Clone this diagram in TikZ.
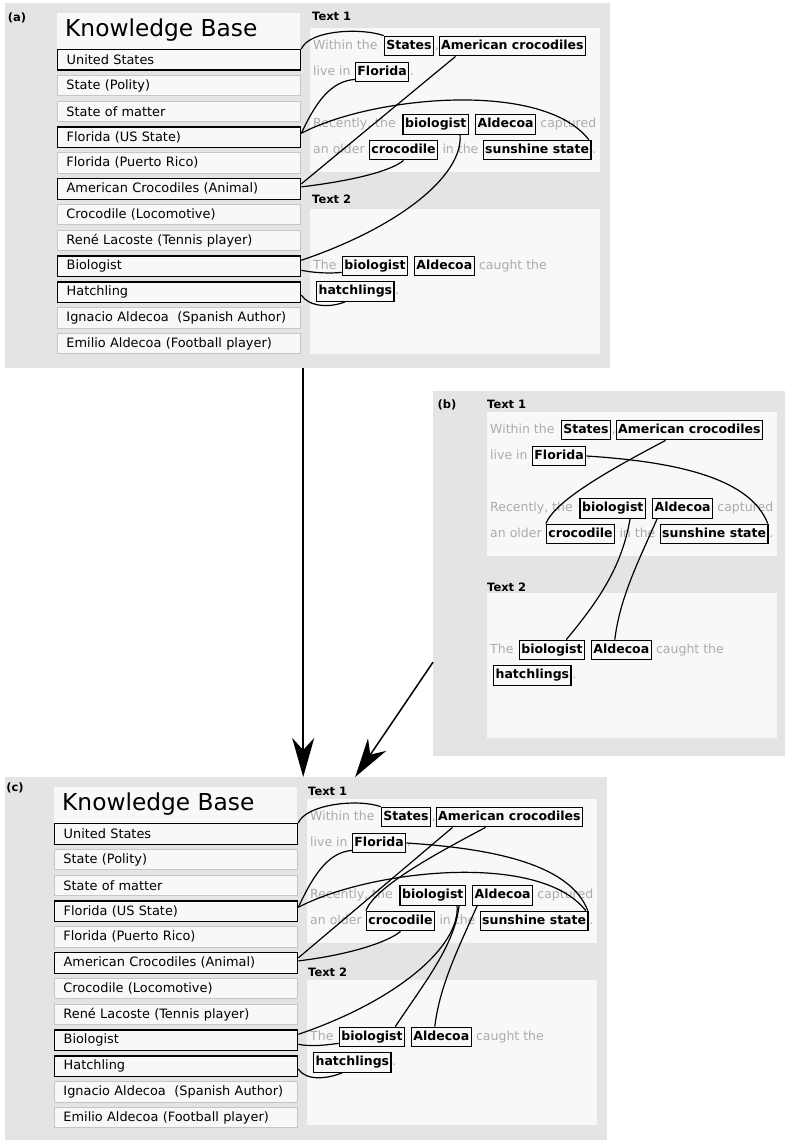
\documentclass[tikz,border=0pt]{standalone}
\usepackage{fontspec}
\setmainfont{DejaVu Sans}
\usetikzlibrary{arrows.meta}
\definecolor{bgGray}{HTML}{E4E4E4}
\definecolor{paneW}{HTML}{F8F8F8}
\definecolor{entLine}{HTML}{C6C6C6}
\definecolor{grayTxt}{HTML}{ABABAB}
\newcommand\stdsize{\fontsize{12.5}{15}\selectfont}
\newcommand\kbsize{\fontsize{12.9}{15}\selectfont}
\newcommand\lblsize{\fontsize{11.5}{13}\selectfont}

\tikzset{
  panelbg/.style={fill=bgGray, draw=none, inner sep=0, anchor=north west},
  pane/.style={fill=paneW, draw=none, inner sep=0, anchor=north west},
  ent/.style={draw=entLine, line width=0.9pt, fill=paneW, anchor=north west,
    text width=225pt, inner xsep=9pt, inner ysep=0pt, minimum height=20.5pt,
    align=left, font=\kbsize},
  entsel/.style={ent, draw=black, line width=1.3pt},
  ment/.style={draw=black, line width=1.3pt, fill=paneW, font=\stdsize\bfseries,
    inner xsep=2pt, inner ysep=3.5pt, text height=9.5pt, text depth=3pt, anchor=base west},
  gtxt/.style={text=grayTxt, inner sep=0pt, font=\stdsize, anchor=base west},
  lbl/.style={font=\lblsize\bfseries, inner sep=0pt, anchor=base west},
  plbl/.style={font=\lblsize\bfseries, inner sep=0pt},
  link/.style={line width=1.2pt, black},
  bigarrow/.style={line width=1.5pt, -{Stealth[length=39pt,width=22pt,inset=12pt]}},
}

% Knowledge base column: #1 prefix, (#2,#3) top-left of the title area
\newcommand\KBPanel[3]{%
  \node[pane, minimum width=243pt, minimum height=36pt] (#1-title) at (#2,#3) {};
  \node[inner sep=0pt, anchor=base west, font=\fontsize{23.3}{26}\selectfont] (#1-tt) at ({#2+8},{#3+23.5}) {Knowledge Base};
  \node[entsel] (#1-us)      at (#2,{#3+36})        {United States};
  \node[ent]    (#1-polity)  at (#2,{#3+36+25.8})   {State (Polity)};
  \node[ent]    (#1-matter)  at (#2,{#3+36+51.6})   {State of matter};
  \node[entsel] (#1-flus)    at (#2,{#3+36+77.4})   {Florida (US State)};
  \node[ent]    (#1-flpr)    at (#2,{#3+36+103.2})  {Florida (Puerto Rico)};
  \node[entsel] (#1-acro)    at (#2,{#3+36+129})    {American Crocodiles (Animal)};
  \node[ent]    (#1-croloc)  at (#2,{#3+36+154.8})  {Crocodile (Locomotive)};
  \node[ent]    (#1-rene)    at (#2,{#3+36+180.6})  {René Lacoste (Tennis player)};
  \node[entsel] (#1-biol)    at (#2,{#3+36+206.4})  {Biologist};
  \node[entsel] (#1-hatch)   at (#2,{#3+36+232.2})  {Hatchling};
  \node[ent]    (#1-ignacio) at (#2,{#3+36+258})    {Ignacio Aldecoa\ \ (Spanish Author)};
  \node[ent]    (#1-emilio)  at (#2,{#3+36+283.8})  {Emilio Aldecoa (Football player)};
}

% Two texts: #1 prefix, (#2,#3) top-left of the Text 1 area
\newcommand\TxtPanel[3]{%
  \node[pane, minimum width=290pt, minimum height=144pt] (#1-r1) at (#2,#3) {};
  \node[pane, minimum width=290pt, minimum height=145pt] (#1-r2) at (#2,{#3+181}) {};
  \node[gtxt] (#1-a1) at ({#2+3},{#3+21.25}) {Within the};
  \node[ment] (#1-st) at ([xshift=6pt]#1-a1.base east) {States};
  \node[gtxt] (#1-a2) at ([xshift=0.3pt]#1-st.base east) {,};
  \node[ment] (#1-ac) at ([xshift=4.3pt]#1-st.base east) {American crocodiles};
  \node[gtxt] (#1-b1) at ({#2+3},{#3+47.25}) {live in};
  \node[ment] (#1-fl) at ([xshift=4pt]#1-b1.base east) {Florida};
  \node[gtxt] (#1-b2) at ([xshift=0.3pt]#1-fl.base east) {.};
  \node[gtxt] (#1-c1) at ({#2+3},{#3+99.75}) {Recently, the};
  \node[ment] (#1-bio) at ([xshift=6.5pt]#1-c1.base east) {biologist};
  \node[ment] (#1-ald) at ([xshift=6pt]#1-bio.base east) {Aldecoa};
  \node[gtxt] (#1-c2) at ([xshift=4pt]#1-ald.base east) {captured};
  \node[gtxt] (#1-d1) at ({#2+3},{#3+125.25}) {an older};
  \node[ment] (#1-cr) at ([xshift=4pt]#1-d1.base east) {crocodile};
  \node[gtxt] (#1-d2) at ([xshift=4pt]#1-cr.base east) {in the};
  \node[ment] (#1-ss) at ([xshift=4pt]#1-d2.base east) {sunshine state};
  \node[gtxt] (#1-d3) at ([xshift=0.3pt]#1-ss.base east) {.};
  \node[gtxt] (#1-e1) at ({#2+3},{#3+241.25}) {The};
  \node[ment] (#1-bioB) at ([xshift=5pt]#1-e1.base east) {biologist};
  \node[ment] (#1-aldB) at ([xshift=5.5pt]#1-bioB.base east) {Aldecoa};
  \node[gtxt] (#1-e2) at ([xshift=4pt]#1-aldB.base east) {caught the};
  \node[ment] (#1-hat) at ({#2+6},{#3+266.75}) {hatchlings};
  \node[gtxt] (#1-f1) at ([xshift=0.3pt]#1-hat.base east) {.};
}

% links from knowledge base #1 to text #2
\newcommand\KBLinks[2]{%
  \draw[link] (#1-us.north east) .. controls +(8,-19) and +(-23,-8) .. (#2-st.north west);
  \draw[link] ([yshift=4pt]#1-flus.east) .. controls +(15,-32) and +(-24,2) .. ([yshift=3pt]#2-fl.south west);
  \draw[link] ([yshift=4pt]#1-flus.east) .. controls +(70,-37) and +(-47,-60) .. ([xshift=-3pt]#2-ss.north east);
  \draw[link] ([yshift=5pt]#1-acro.east) -- ([xshift=17pt]#2-ac.south west);
  \draw[link] ([yshift=2pt]#1-acro.east) .. controls +(50,-6) and +(-13,11) .. (#2-cr.south);
  \draw[link] ([yshift=6pt]#1-biol.east) .. controls +(100,-34) and +(3,40) .. ([xshift=-9pt]#2-bio.south east);
  \draw[link] ([yshift=-4pt]#1-biol.east) .. controls +(15,3) and +(-10,1) .. ([yshift=4pt]#2-bioB.south west);
  \draw[link] ([yshift=-3pt]#1-hatch.east) .. controls +(8,12) and +(-15,6) .. ([xshift=29pt]#2-hat.south west);
}

\begin{document}
\begin{tikzpicture}[x=1pt, y=-1pt]
\useasboundingbox (0,0) rectangle (785,1140);

% panel backgrounds
\node[panelbg, minimum width=605pt, minimum height=365pt] (PA) at (5,3) {};
\node[panelbg, minimum width=352pt, minimum height=365pt] (PB) at (433,391) {};
\node[panelbg, minimum width=602pt, minimum height=363pt] (PC) at (5,777) {};

\node[plbl] (la) at (17,18) {(a)};
\node[plbl] (lb) at (447,405) {(b)};
\node[plbl] (lc) at (15,788) {(c)};

% panel (a)
\KBPanel{ka}{57}{13}
\TxtPanel{ta}{310}{28}
\node[lbl] (ta-l1) at (312,20.5) {Text 1};
\node[lbl] (ta-l2) at (312,203.5) {Text 2};
\KBLinks{ka}{ta}

% panel (b)
\TxtPanel{tb}{487}{412}
\node[lbl] (tb-l1) at (487,408.5) {Text 1};
\node[lbl] (tb-l2) at (487,591) {Text 2};
\draw[link] ([xshift=50pt]tb-ac.south west) .. controls +(-53,28) and +(10,-24) .. (tb-cr.north west);
\draw[link] (tb-fl.east) .. controls +(95,6) and +(-17,-44) .. ([xshift=-1pt]tb-ss.north east);
\draw[link] ([xshift=-16pt]tb-bio.south east) .. controls +(-8,46) and +(35,-42) .. ([xshift=-19pt]tb-bioB.north east);
\draw[link] ([xshift=5pt]tb-ald.south west) .. controls +(-18,41) and +(5,-42) .. ([xshift=24pt]tb-aldB.north west);

% panel (c)
\KBPanel{kc}{54}{787}
\TxtPanel{tc}{307}{799}
\node[lbl] (tc-l1) at (308,795) {Text 1};
\node[lbl] (tc-l2) at (308,976) {Text 2};
\KBLinks{kc}{tc}
\draw[link] ([xshift=50pt]tc-ac.south west) .. controls +(-53,28) and +(10,-24) .. (tc-cr.north west);
\draw[link] (tc-fl.east) .. controls +(95,6) and +(-17,-44) .. ([xshift=-1pt]tc-ss.north east);
\draw[link] ([xshift=-7pt]tc-bio.south east) .. controls +(-5,40) and +(30,-45) .. ([xshift=-10pt]tc-bioB.north east);
\draw[link] ([xshift=5pt]tc-ald.south west) .. controls +(-18,41) and +(5,-42) .. ([xshift=24pt]tc-aldB.north west);

% arrows between panels
\draw[bigarrow] ([xshift=-4.5pt]PA.south) -- ([xshift=-3pt]PC.north);
\draw[bigarrow] ([yshift=-88.5pt]PB.west) -- ([xshift=49pt]PC.north);
\end{tikzpicture}
\end{document}
